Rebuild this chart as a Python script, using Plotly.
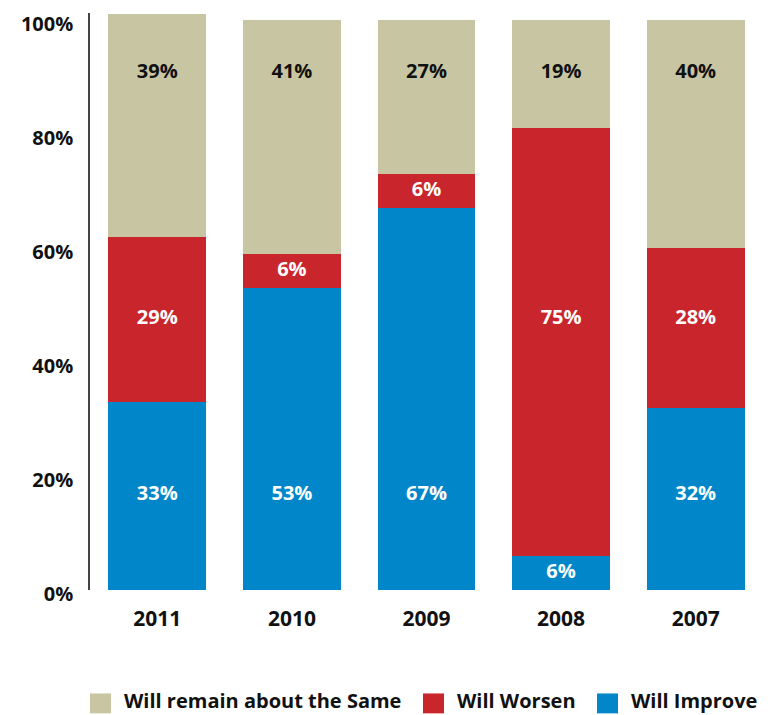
import plotly.graph_objects as go

# Survey outlook by year (percent of respondents)
years = ["2011", "2010", "2009", "2008", "2007"]
improve = [33, 53, 67, 6, 32]
worsen = [29, 6, 6, 75, 28]
same = [39, 41, 27, 19, 40]

series_names = ["Will Improve", "Will Worsen", "Will remain about the Same"]
y_ticks = [0, 20, 40, 60, 80, 100]
y_tick_text = [f"{t}%" for t in y_ticks]

COL_IMPROVE = "#0086C9"
COL_WORSEN = "#C9252C"
COL_SAME = "#C8C6A2"
FONT = "Open Sans"

# figure geometry (pixels)
W, H = 773, 715
ML, MR, MT, MB = 90, 10, 10, 125
PLOT_W = W - ML - MR
PLOT_H = H - MT - MB
Y_TOP = 101.2


def px_x(px):
    return (px - ML) / PLOT_W


def px_y(py):
    return (H - MB - py) / PLOT_H


fig = go.Figure()
stack = [
    (series_names[0], improve, COL_IMPROVE),
    (series_names[1], worsen, COL_WORSEN),
    (series_names[2], same, COL_SAME),
]
for name, vals, col in stack:
    fig.add_trace(go.Bar(
        x=years, y=vals, name=name, marker=dict(color=col, line=dict(width=0)),
        showlegend=False, hoverinfo="x+y+name",
    ))

# value labels: each series sits on its own row when the segment is tall
# enough, otherwise the label is centred in its segment
label_rows = {series_names[0]: 16.75, series_names[1]: 47.5, series_names[2]: 90.7}
label_colors = {series_names[0]: "white", series_names[1]: "white", series_names[2]: "#111111"}
base = [0] * len(years)
for name, vals, col in stack:
    ys = []
    for i, v in enumerate(vals):
        lo, hi = base[i], base[i] + v
        row = label_rows[name]
        ys.append(row if lo + 5 <= row <= hi - 5 else (lo + hi) / 2)
        base[i] = hi
    fig.add_trace(go.Scatter(
        x=years, y=ys, mode="text", text=[f"{v}%" for v in vals],
        textposition="middle center", showlegend=False, hoverinfo="skip",
        textfont=dict(family=FONT, size=20, color=label_colors[name], weight="bold"),
    ))

# legend drawn as swatches + labels along the bottom
legend_items = [
    (series_names[2], COL_SAME, 90),
    (series_names[1], COL_WORSEN, 423),
    (series_names[0], COL_IMPROVE, 597),
]
for name, col, x0 in legend_items:
    fig.add_shape(
        type="rect", xref="paper", yref="paper",
        x0=px_x(x0), x1=px_x(x0 + 21), y0=px_y(714), y1=px_y(694),
        fillcolor=col, line=dict(width=0),
    )
    fig.add_annotation(
        x=px_x(x0 + 32), y=px_y(701), xref="paper", yref="paper",
        xanchor="left", yanchor="middle", text=name, showarrow=False,
        font=dict(family=FONT, size=20, color="#111111", weight="bold"),
    )

fig.update_layout(
    width=W, height=H,
    margin=dict(l=ML, r=MR, t=MT, b=MB, pad=0),
    barmode="stack", bargap=0.272,
    plot_bgcolor="white", paper_bgcolor="white",
    font=dict(family=FONT, color="#111111"),
    xaxis=dict(
        type="category", range=[-0.5, len(years) - 0.5],
        showgrid=False, zeroline=False, showline=False, ticks="",
        ticklabelstandoff=14,
        tickfont=dict(family=FONT, size=21, color="#111111", weight="bold"),
    ),
    yaxis=dict(
        range=[0, Y_TOP], tickmode="array", tickvals=y_ticks, ticktext=y_tick_text,
        showgrid=False, zeroline=False, showline=True, linecolor="#444444", linewidth=1.5,
        ticks="", ticklabelstandoff=11, ticklabelshift=4,
        tickfont=dict(family=FONT, size=20, color="#111111", weight="bold"),
    ),
)

fig.write_html("out.html")
